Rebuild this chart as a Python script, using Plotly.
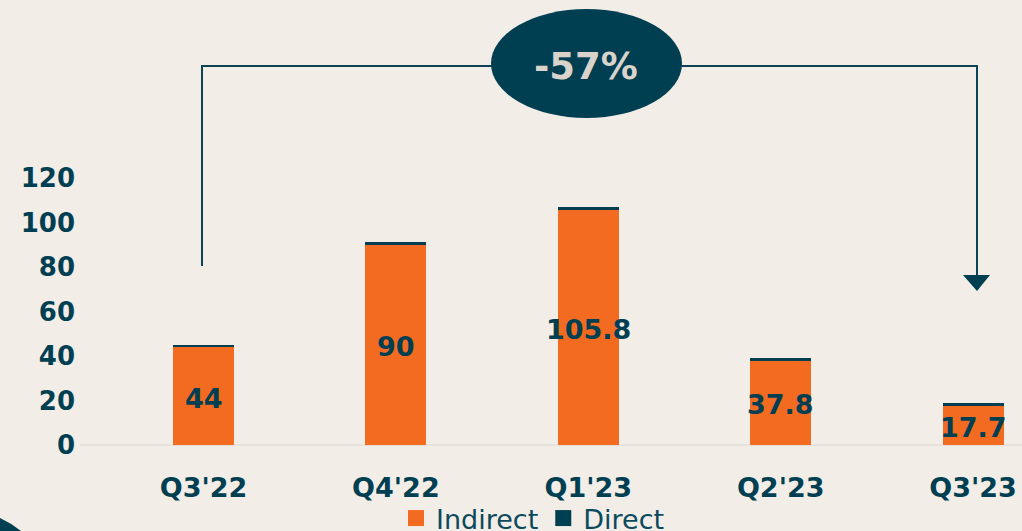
import plotly.graph_objects as go

categories = ["Q3'22", "Q4'22", "Q1'23", "Q2'23", "Q3'23"]
indirect = [44, 90, 105.8, 37.8, 17.7]
direct = [1.0, 1.4, 1.3, 1.2, 1.4]
y_ticks = [0, 20, 40, 60, 80, 100, 120]
change_label = "-57%"

BG = "#f2ede7"
ORANGE = "#f36b21"
TEAL = "#003f52"
LIGHT = "#d9d3cc"
FONT = "DejaVu Sans"

W, H = 1022, 531
L, R, T, B = 80, 0, 40, 86
PW, PH = W - L - R, H - T - B
PX_PER_UNIT = 2.225
CAT0, CAT_STEP = 203.5, 192.4


def px(x):
    return (x - L) / PW


def py(y):
    return (H - B - y) / PH


fig = go.Figure()
fig.add_trace(go.Bar(x=list(range(len(categories))), y=indirect, name="Indirect",
                     marker=dict(color=ORANGE, line=dict(width=0)), width=0.317,
                     showlegend=False, hoverinfo="skip"))
fig.add_trace(go.Bar(x=list(range(len(categories))), y=direct, name="Direct",
                     marker=dict(color=TEAL, line=dict(width=0)), width=0.317,
                     showlegend=False, hoverinfo="skip"))
# legend entries
for name, col in (("Indirect", ORANGE), ("Direct", TEAL)):
    fig.add_trace(go.Scatter(x=[None], y=[None], mode="markers", name=name,
                             marker=dict(symbol="square", size=16, color=col)))

for i, v in enumerate(indirect):
    fig.add_annotation(x=i, y=v / 2, xref="x", yref="y", text=f"{v:g}", showarrow=False,
                       xanchor="center", yanchor="middle", yshift=-2,
                       font=dict(family=FONT, size=27, color=TEAL, weight="bold"))

line_col = "#0b4456"
shapes = [
    dict(type="path", xref="paper", yref="paper",
         path=f"M {px(202)},{py(266)} L {px(202)},{py(66)} L {px(492)},{py(66)}",
         line=dict(color=line_col, width=2)),
    dict(type="path", xref="paper", yref="paper",
         path=f"M {px(680)},{py(66)} L {px(977)},{py(66)} L {px(977)},{py(280)}",
         line=dict(color=line_col, width=2)),
    dict(type="path", xref="paper", yref="paper",
         path=f"M {px(963)},{py(275)} L {px(990)},{py(275)} L {px(977)},{py(291)} Z",
         fillcolor=TEAL, line=dict(color=TEAL, width=0)),
    dict(type="circle", xref="paper", yref="paper",
         x0=px(491), x1=px(682), y0=py(118), y1=py(9),
         fillcolor=TEAL, line=dict(color=TEAL, width=0)),
    dict(type="path", xref="paper", yref="paper",
         path=f"M {px(0)},{py(518)} Q {px(11)},{py(523)} {px(21)},{py(531)} L {px(0)},{py(531)} Z",
         fillcolor=TEAL, line=dict(width=0)),
]
fig.add_annotation(x=px(586), y=py(66), xref="paper", yref="paper", text=change_label,
                   xanchor="center", yanchor="middle",
                   showarrow=False, font=dict(family=FONT, size=37, color=LIGHT, weight="bold"))

fig.update_layout(
    width=W, height=H,
    margin=dict(l=L, r=R, t=T, b=B, pad=0, autoexpand=False),
    paper_bgcolor=BG, plot_bgcolor=BG,
    barmode="stack", bargap=0,
    shapes=shapes,
    showlegend=True,
    legend=dict(orientation="h", x=px(533), xanchor="center",
                y=py(494), yanchor="top", itemwidth=30, traceorder="normal",
                font=dict(family=FONT, size=27, color="#0b4a5c"),
                bgcolor="rgba(0,0,0,0)", tracegroupgap=0),
    xaxis=dict(range=[(L - CAT0) / CAT_STEP, (W - R - CAT0) / CAT_STEP],
               tickmode="array", tickvals=list(range(len(categories))), ticktext=categories,
               showgrid=False, zeroline=False, showline=False, ticks="",
               ticklabelstandoff=24, tickangle=0, automargin=False,
               tickfont=dict(family=FONT, size=27, color=TEAL, weight="bold")),
    yaxis=dict(range=[0, PH / PX_PER_UNIT], tickmode="array", tickvals=y_ticks,
               showgrid=False, zeroline=True, zerolinecolor="#e6e1db", zerolinewidth=2,
               showline=False, ticks="", ticklabelstandoff=4, automargin=False,
               tickfont=dict(family=FONT, size=26, color=TEAL, weight="bold")),
    font=dict(family=FONT, color=TEAL),
)

fig.write_html("out.html", config={"displayModeBar": False},
               post_script="document.body.style.margin='0';document.body.style.background='" + BG + "';")
